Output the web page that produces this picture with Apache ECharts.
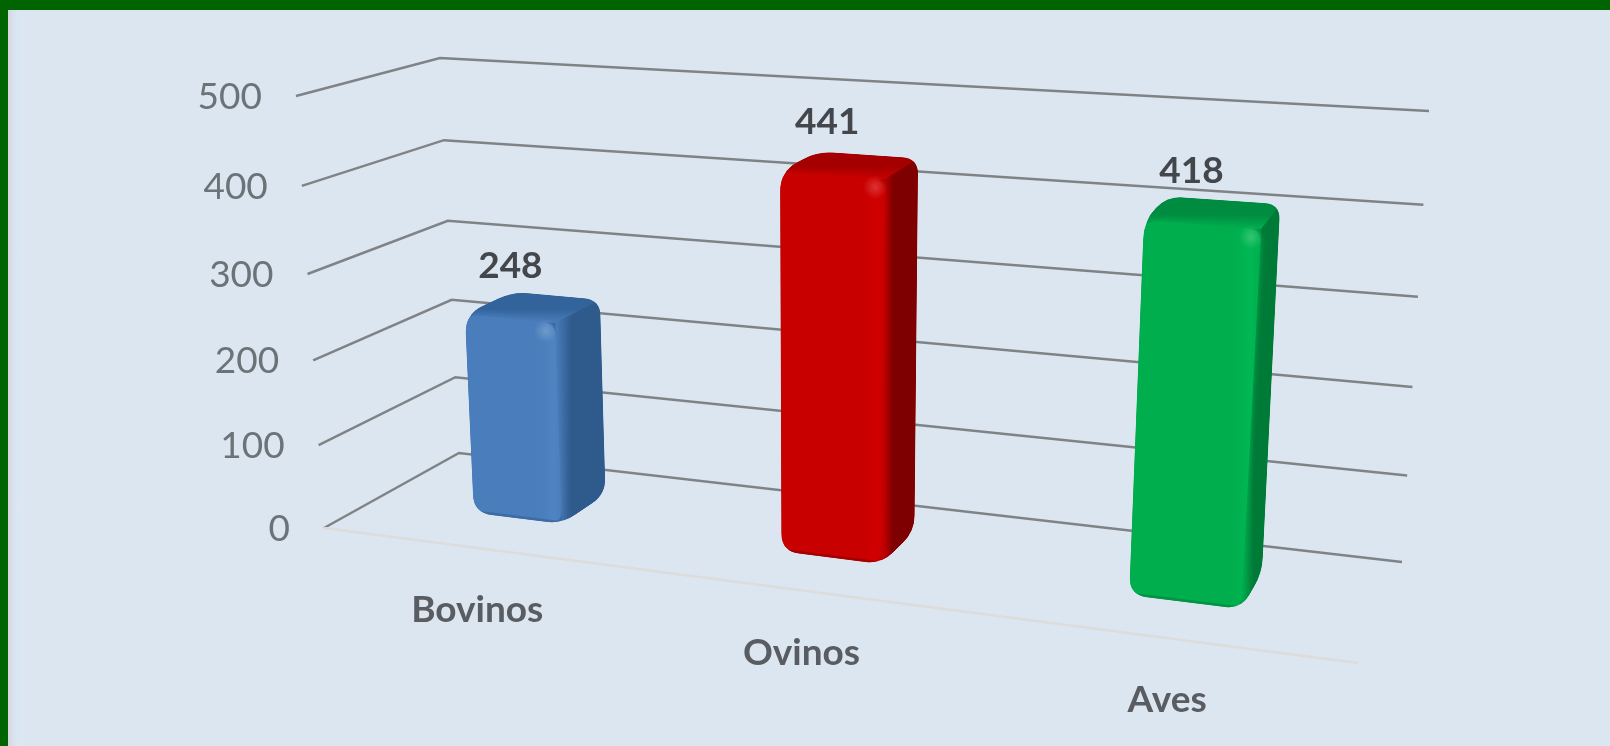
<!DOCTYPE html>
<html lang="pt">
<head>
	<meta charset="utf-8">
	<title>Bovinos, Ovinos, Aves</title>
	<style type="text/css">
		html, body {
			margin: 0;
			padding: 0;
			width: 100%;
			height: 100%;
			overflow: hidden;
			background: #dce6f1;
		}
		.frame-top {
			position: absolute;
			left: 0;
			top: 0;
			width: 1610px;
			height: 10px;
			background: #006400;
		}
		.frame-left {
			position: absolute;
			left: 0;
			top: 0;
			width: 8px;
			height: 746px;
			background: #006400;
		}
		.frame-glow {
			position: absolute;
			left: 8px;
			top: 10px;
			width: 18px;
			height: 736px;
			background: linear-gradient(to right, #d5d6dc 0, #d8e1ec 5px, #dae8f4 10px, #dce6f1 100%);
		}
		#main {
			position: absolute;
			left: 0;
			top: 0;
			width: 1610px;
			height: 746px;
		}
	</style>
</head>
<body>
	<div class="frame-glow"></div>
	<div class="frame-top"></div>
	<div class="frame-left"></div>
	<div id="main"></div>
	<script type="text/javascript" src="https://cdn.jsdelivr.net/npm/echarts@6/dist/echarts.min.js"></script>
	<script type="text/javascript">
		var categories = ['Bovinos', 'Ovinos', 'Aves'];
		var values = [248, 441, 418];
		var tickValues = [0, 100, 200, 300, 400, 500];

		// front, side, top colour of each bar
		var barColors = [
			{ front: '#4a7dbb', light: '#4f84c3', side: '#2f5a8c', top: '#33639b' },
			{ front: '#c80000', light: '#d20000', side: '#7f0000', top: '#a50000' },
			{ front: '#00ae4e', light: '#00b853', side: '#007a37', top: '#008c40' }
		];

		var GRID_W = 1000, GRID_H = 500;

		// screen position of the eight corners of the 3d box
		var box = {
			fl: [[324, 528], [296, 96]],
			fr: [[1358, 663], [1393, 175]],
			bl: [[459, 453], [440, 58]],
			br: [[1402, 562], [1429, 111]]
		};

		function mix(a, b, k) {
			return [a[0] + (b[0] - a[0]) * k, a[1] + (b[1] - a[1]) * k];
		}

		// u: left to right, d: front to back, t: floor to top, all 0..1
		function project(u, d, t) {
			// gridlines get slightly wider going up, bars wider going right
			var h = t - 0.05 * t * (1 - t);
			var w = u - 0.18 * u * (1 - u);
			var front = mix(mix(box.fl[0], box.fl[1], h), mix(box.fr[0], box.fr[1], h), w);
			var back = mix(mix(box.bl[0], box.bl[1], h), mix(box.br[0], box.br[1], h), w);
			return mix(front, back, d);
		}

		// closed svg path with rounded corners
		function roundPath(pts, r) {
			var s = '';
			for (var i = 0; i < pts.length; i++) {
				var p = pts[i];
				var prev = pts[(i + pts.length - 1) % pts.length];
				var next = pts[(i + 1) % pts.length];
				var rad = r[i] === undefined ? r : r[i];
				var d1 = Math.hypot(prev[0] - p[0], prev[1] - p[1]);
				var d2 = Math.hypot(next[0] - p[0], next[1] - p[1]);
				var a = mix(p, prev, Math.min(rad / d1, 0.5));
				var b = mix(p, next, Math.min(rad / d2, 0.5));
				s += (i == 0 ? 'M' : 'L') + a[0] + ' ' + a[1] + 'Q' + p[0] + ' ' + p[1] + ' ' + b[0] + ' ' + b[1];
			}
			return s + 'Z';
		}

		function renderTick(params, api) {
			var val = api.value(0);
			var t = (GRID_H - api.coord([0, val])[1]) / GRID_H;
			var fl = project(0, 0, t), bl = project(0, 1, t), br = project(1, 1, t);
			var children = [{
				type: 'polyline',
				shape: { points: [fl, bl, br] },
				style: { fill: 'none', stroke: '#7f8386', lineWidth: 2.5 }
			}, {
				type: 'text',
				style: {
					text: String(val),
					x: fl[0] - 34,
					y: fl[1] + 1,
					textAlign: 'right',
					textVerticalAlign: 'middle',
					fill: '#6b7378',
					font: '37px Lato'
				}
			}];
			if (val == 0) {
				children.push({
					type: 'line',
					shape: { x1: fl[0], y1: fl[1], x2: project(1, 0, 0)[0], y2: project(1, 0, 0)[1] },
					style: { stroke: '#dedcdb', lineWidth: 2.5 }
				});
			}
			return { type: 'group', children: children };
		}

		function renderBar(params, api) {
			var i = api.value(0);
			var c = barColors[i];
			var pos = api.coord([i, api.value(1)]);
			var uc = pos[0] / GRID_W + 0.002;
			// the rounded lid sits a little under the value
			var t = (GRID_H - pos[1]) / GRID_H - 0.015;
			var hw = 0.05, d0 = 0.37, d1 = 0.74;

			var fbl = project(uc - hw, d0, 0), fbr = project(uc + hw, d0, 0);
			var ftl = project(uc - hw, d0, t), ftr = project(uc + hw, d0, t);
			var bbr = project(uc + hw, d1, 0), btr = project(uc + hw, d1, t), btl = project(uc - hw, d1, t);

			var outline = roundPath([fbl, fbr, bbr, btr, btl, ftl], [18, 16, 16, 16, 16, 20]);
			return {
				type: 'group',
				clipPath: { type: 'path', shape: { pathData: outline } },
				children: [{
					type: 'path',
					shape: { pathData: outline },
					style: { fill: c.top }
				}, {
					type: 'polygon',
					shape: { points: [ftl, ftr, btr, btl] },
					style: {
						fill: new echarts.graphic.LinearGradient(0, 0, 0, 1, [
							{ offset: 0, color: c.top },
							{ offset: 0.55, color: c.top },
							{ offset: 1, color: c.front }
						])
					}
				}, {
					type: 'polygon',
					shape: { points: [fbr, bbr, btr, ftr] },
					style: {
						fill: new echarts.graphic.LinearGradient(0, 0, 1, 0, [
							{ offset: 0, color: c.front },
							{ offset: 0.32, color: c.side },
							{ offset: 1, color: c.side }
						])
					}
				}, {
					type: 'path',
					shape: { pathData: roundPath([fbl, fbr, ftr, ftl], 14) },
					style: {
						fill: new echarts.graphic.LinearGradient(0, 0, 1, 0, [
							{ offset: 0, color: c.front },
							{ offset: 0.8, color: c.front },
							{ offset: 0.92, color: c.light },
							{ offset: 1, color: c.front }
						]),
						shadowColor: c.front,
						shadowBlur: 6
					}
				}, {
					type: 'line',
					shape: { x1: fbl[0], y1: fbl[1], x2: fbr[0], y2: fbr[1] },
					style: { stroke: c.side, lineWidth: 5, opacity: 0.5 }
				}, {
					type: 'circle',
					shape: { cx: ftr[0] - 10, cy: ftr[1] + 8, r: 12 },
					style: {
						fill: new echarts.graphic.RadialGradient(0.5, 0.5, 0.5, [
							{ offset: 0, color: 'rgba(255,255,255,0.2)' },
							{ offset: 1, color: 'rgba(255,255,255,0)' }
						])
					}
				}]
			};
		}

		function renderLabels(params, api) {
			var i = api.value(0);
			var val = api.value(1);
			var pos = api.coord([i, val]);
			var uc = pos[0] / GRID_W + 0.002;
			var t = (GRID_H - pos[1]) / GRID_H;
			var top = project(uc, 0.37, t);
			var floor = project(uc, 0, 0);
			return {
				type: 'group',
				children: [{
					type: 'text',
					style: {
						text: String(val),
						x: top[0] + 4 - 18 * uc,
						y: top[1] - 46,
						textAlign: 'center',
						textVerticalAlign: 'middle',
						fill: '#43474c',
						font: 'bold 37px Lato'
					}
				}, {
					type: 'text',
					style: {
						text: categories[i],
						x: floor[0] + 5,
						y: floor[1] + 63,
						textAlign: 'center',
						textVerticalAlign: 'middle',
						fill: '#595d62',
						font: 'bold 37px Lato'
					}
				}]
			};
		}

		var barData = categories.map(function(name, i) { return [i, values[i]]; });

		var chart = echarts.init(document.getElementById('main'));
		chart.setOption({
			animation: false,
			backgroundColor: 'transparent',
			grid: { left: 0, top: 0, width: GRID_W, height: GRID_H, show: false },
			xAxis: { type: 'category', data: categories, show: false },
			yAxis: { type: 'value', min: 0, max: 500, interval: 100, show: false },
			series: [
				{ type: 'custom', name: 'ticks', renderItem: renderTick, data: tickValues.map(function(v) { return [v]; }), encode: { y: 0 }, z: 1, silent: true },
				{ type: 'custom', name: 'bars', renderItem: renderBar, data: barData, encode: { x: 0, y: 1 }, z: 2 },
				{ type: 'custom', name: 'labels', renderItem: renderLabels, data: barData, encode: { x: 0, y: 1 }, z: 3, silent: true }
			]
		});
	</script>
</body>
</html>
